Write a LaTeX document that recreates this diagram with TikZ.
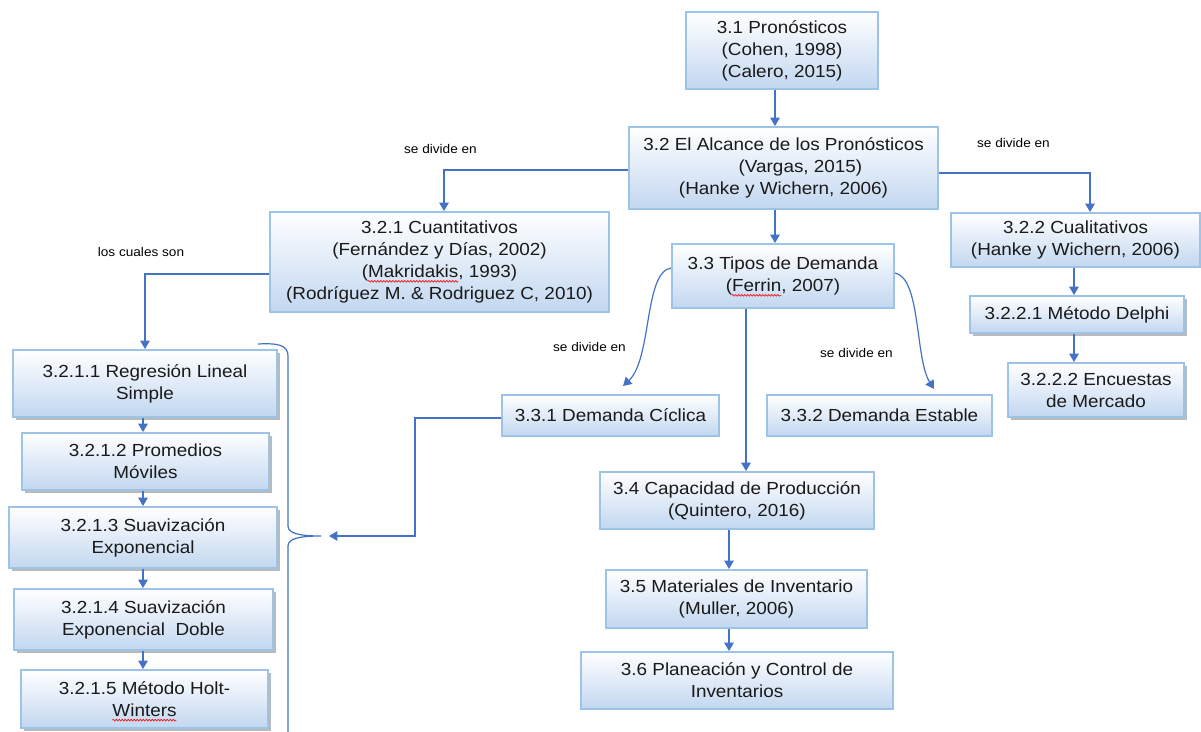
\documentclass[tikz,border=0pt]{standalone}
\usepackage{fontspec}
\setmainfont{Liberation Sans}[FakeStretch=1.08]
\usetikzlibrary{arrows.meta,shadows,decorations.pathmorphing}

% red wavy spell-check underline below a word
\newlength\spelllen
\newcommand\spellmark[1]{\settowidth\spelllen{#1}\rlap{\tikz[overlay]\draw[red,line width=0.3pt,decorate,decoration={zigzag,segment length=1.5pt,amplitude=0.45pt}] (0pt,-1.9pt) -- (\spelllen,-1.9pt);}#1}

\definecolor{linec}{HTML}{4472C4}
\definecolor{boxline}{HTML}{9DC3E6}
\definecolor{boxbot}{HTML}{C2D7F0}
\definecolor{textc}{HTML}{1A1A1A}

\tikzset{
  box/.style={draw=boxline, line width=1pt, top color=white, bottom color=boxbot,
    align=center, text=textc, inner sep=1pt, font=\fontsize{8.75}{11}\selectfont},
  shadowed/.style={drop shadow={shadow xshift=1.5pt, shadow yshift=-1.5pt,
    fill=black!45, opacity=0.6}},
  arr/.style={draw=linec, line width=0.6pt, -{Triangle[width=4.8pt,length=4.2pt]}},
  bracel/.style={draw=linec, line width=0.6pt},
  lbl/.style={font=\fontsize{6.3}{7.5}\selectfont, text=black, inner sep=0pt},
}

\begin{document}
\begin{tikzpicture}[x=0.5pt,y=-0.5pt]
\fill[white] (0,0) rectangle (1201,732);
\useasboundingbox (0,0) rectangle (1201,732);

% main spine
\node[box, minimum width=96pt, minimum height=38.5pt] (a31) at (782,50.5)
  {3.1 Pronósticos\\(Cohen, 1998)\\(Calero, 2015)};
\node[box, minimum width=154.5pt, minimum height=41pt] (a32) at (783.5,168)
  {3.2 El Alcance de los Pronósticos\\\hspace*{17pt}(Vargas, 2015)\\(Hanke y Wichern, 2006)};
\node[box, minimum width=169.5pt, minimum height=50pt] (a321) at (439.5,262)
  {3.2.1 Cuantitativos\\(Fernández y Días, 2002)\\(\spellmark{Makridakis}, 1993)\\(Rodríguez M. \& Rodriguez C, 2010)};
\node[box, minimum width=111pt, minimum height=32pt] (a33) at (783,276)
  {3.3 Tipos de Demanda\\(\spellmark{Ferrin}, 2007)};
\node[box, minimum width=124.5pt, minimum height=27pt] (a322) at (1075.5,240)
  {3.2.2 Cualitativos\\(Hanke y Wichern, 2006)};
\node[box, shadowed, minimum width=107pt, minimum height=18.5pt] (a3221) at (1077,314.5)
  {3.2.2.1 Método Delphi};
\node[box, shadowed, minimum width=88pt, minimum height=27pt] (a3222) at (1096,390)
  {3.2.2.2 Encuestas\\de Mercado};
\node[box, minimum width=108.5pt, minimum height=20.5pt] (a331) at (610.5,415.5)
  {3.3.1 Demanda Cíclica};
\node[box, minimum width=112.5pt, minimum height=20.5pt] (a332) at (879.5,415.5)
  {3.3.2 Demanda Estable};
\node[box, minimum width=137pt, minimum height=28.5pt] (a34) at (737,500.5)
  {3.4 Capacidad de Producción\\(Quintero, 2016)};
\node[box, minimum width=130.5pt, minimum height=29pt] (a35) at (736.5,599)
  {3.5 Materiales de Inventario\\(Muller, 2006)};
\node[box, minimum width=156pt, minimum height=28.5pt] (a36) at (737,680.5)
  {3.6 Planeación y Control de\\Inventarios};

% quantitative methods column
\node[box, shadowed, minimum width=132pt, minimum height=33.5pt] (b1) at (145,383.5)
  {3.2.1.1 Regresión Lineal\\Simple};
\node[box, shadowed, minimum width=123.5pt, minimum height=28.5pt] (b2) at (145.5,461.5)
  {3.2.1.2 Promedios\\Móviles};
\node[box, shadowed, minimum width=134pt, minimum height=30.5pt] (b3) at (143,537.5)
  {3.2.1.3 Suavización\\Exponencial};
\node[box, shadowed, minimum width=129.5pt, minimum height=30.5pt] (b4) at (143.5,619.5)
  {3.2.1.4 Suavización\\Exponencial\ \ Doble};
\node[box, shadowed, minimum width=123.5pt, minimum height=29pt] (b5) at (144.5,699)
  {3.2.1.5 Método Holt-\\\spellmark{Winters}};

% labels
\node[lbl] (l1) at (440.5,149) {se divide en};
\node[lbl] (l2) at (1013.5,143) {se divide en};
\node[lbl] (l3) at (141,252) {los cuales son};
\node[lbl] (l4) at (589.5,347) {se divide en};
\node[lbl] (l5) at (856.5,353) {se divide en};

% helper columns
\coordinate (cx) at (143,0);
\coordinate (qx) at (1074,0);
\coordinate (dx) at (746,0);
\coordinate (px) at (729,0);
\coordinate (bend) at (415,536);
\coordinate (btip) at (329,536);

% connectors
\draw[arr] ([xshift=-3.5pt]a31.south) -- ([xshift=-3.5pt]a31.south |- a32.north);
\draw[arr] ([yshift=-1pt]a32.west) -| ([xshift=2.25pt]a321.north);
\draw[arr] ([yshift=-2.5pt]a32.east) -| ([xshift=7.25pt]a322.north);
\draw[arr] ([xshift=-4.25pt]a32.south) -- ([xshift=-4.25pt]a32.south |- a33.north);
\draw[arr] ([yshift=-6pt]a321.west) -| (b1.north);
\draw[arr] (b1.south -| cx) -- (b2.north -| cx);
\draw[arr] (b2.south -| cx) -- (b3.north -| cx);
\draw[arr] (b3.south -| cx) -- (b4.north -| cx);
\draw[arr] (b4.south -| cx) -- (b5.north -| cx);
\draw[arr] (a322.south -| qx) -- (a3221.north -| qx);
\draw[arr] (a3221.south -| qx) -- (a3222.north -| qx);
\draw[arr] (a33.south -| dx) -- (a34.north -| dx);
\draw[arr] (a34.south -| px) -- (a35.north -| px);
\draw[arr] (a35.south -| px) -- (a36.north -| px);
\draw[arr] ([yshift=4pt]a33.west) .. controls +(-27,4) and +(29,-27) .. ([xshift=6.25pt,yshift=4pt]a331.north);
\draw[arr] ([yshift=1.5pt]a33.east) .. controls +(26,5) and +(-19,-30) .. ([xshift=27.25pt,yshift=2.5pt]a332.north);
\draw[arr] ([yshift=-1.25pt]a331.west) -| (bend) -- (btip);

% brace grouping the quantitative methods
\draw[bracel] (258,344) .. controls (278,343) and (288,345) .. (288,356)
  -- (288,526) .. controls (288,533) and (298,536) .. (321,536)
  .. controls (298,536) and (288,539) .. (288,546) -- (288,735);
\end{tikzpicture}
\end{document}
